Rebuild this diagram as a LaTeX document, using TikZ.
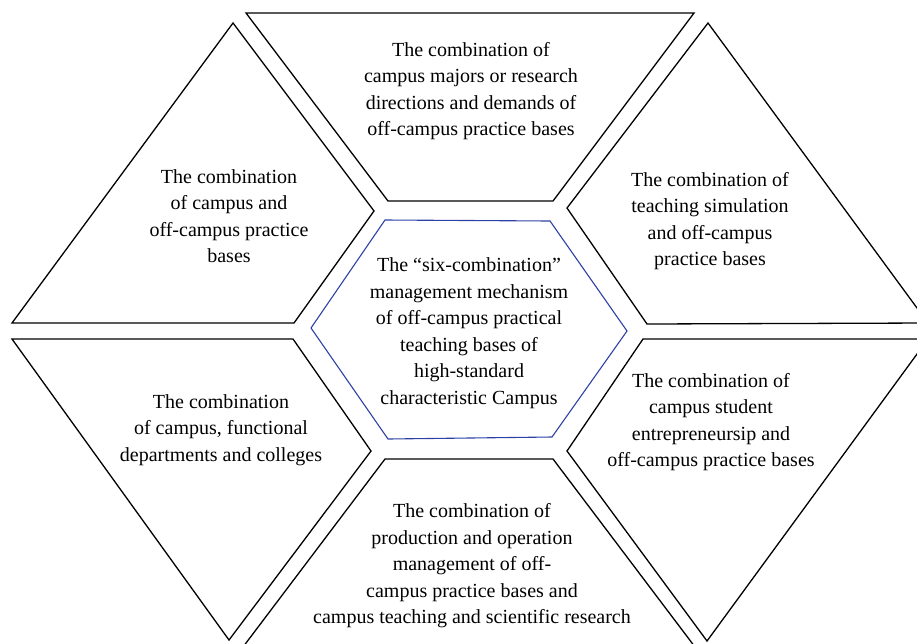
\documentclass[tikz,border=0pt]{standalone}
\usepackage{fontspec}
\setmainfont{Liberation Serif}
\definecolor{hexblue}{RGB}{45,65,165}
\tikzset{
  panel/.style={draw=black, line width=1.3pt, line join=miter},
  hexpanel/.style={draw=hexblue, line width=1.1pt, line join=miter},
  lbl/.style={align=center, inner sep=0pt, font=\fontsize{20}{26.5}\selectfont}
}
\begin{document}
\begin{tikzpicture}[x=1pt, y=-1pt]
\useasboundingbox (0,0) rectangle (917,643);
\clip (0,0) rectangle (917,643);
% top trapezoid
\draw[panel] (246,13) -- (694,13) -- (553,201) -- (388,201) -- cycle;
% top-left
\draw[panel] (233,23) -- (374,211) -- (294,323) -- (12,323) -- cycle;
% top-right
\draw[panel] (708,23) -- (928,323) -- (647,324) -- (567,208) -- cycle;
% bottom-left
\draw[panel] (12,339) -- (293,339) -- (371,451) -- (229,640) -- cycle;
% bottom-right
\draw[panel] (643,339) -- (928,339) -- (707,641) -- (567,451) -- cycle;
% bottom trapezoid
\draw[panel] (385,459) -- (553,459) -- (695,647) -- (243,647) -- cycle;
% center hexagon
\draw[hexpanel] (311,328) -- (385,220) -- (550,221) -- (627,331) -- (552,437) -- (388,439) -- cycle;

\node[lbl] (top) at (471,91) {The combination of\\campus majors or research\\directions and demands of\\off-campus practice bases};
\node[lbl] (tl) at (229,216) {The combination\\of campus and\\off-campus practice\\bases};
\node[lbl] (tr) at (710,221) {The combination of\\teaching simulation\\and off-campus\\practice bases};
\node[lbl] (ctr) at (469,333) {The ``six-combination''\\management mechanism\\of off-campus practical\\teaching bases of\\high-standard\\characteristic Campus};
\node[lbl] (bl) at (221,430) {The combination\\of campus, functional\\departments and colleges};
\node[lbl] (br) at (711,422) {The combination of\\campus student\\entrepreneursip and\\off-campus practice bases};
\node[lbl] (bot) at (472,566) {The combination of\\production and operation\\management of off-\\campus practice bases and\\campus teaching and scientific research};
\end{tikzpicture}
\end{document}
